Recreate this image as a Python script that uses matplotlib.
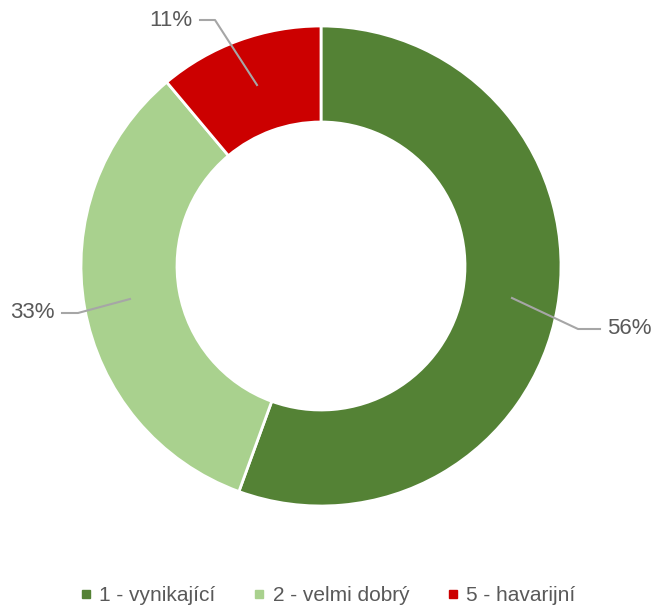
import matplotlib.pyplot as plt
from matplotlib.lines import Line2D

categories = ['1 - vynikající', '2 - velmi dobrý', '5 - havarijní']
counts = [5, 3, 1]
colors = ['#548235', '#A9D18E', '#CC0000']

plt.rcParams['font.family'] = ['Liberation Sans', 'DejaVu Sans']
textColor = '#595959'
lineColor = '#A6A6A6'

fig = plt.figure(figsize=(6.53, 6.12), dpi=100)
ax = fig.add_axes([0, 0, 1, 1])

wedges, _ = ax.pie(counts, colors=colors, startangle=90, counterclock=False,
                   center=(321, 346), radius=240,
                   wedgeprops=dict(width=96, edgecolor='white', linewidth=2))
ax.set_xlim(0, 653)
ax.set_ylim(0, 612)
ax.set_aspect('equal')
ax.axis('off')

total = sum(counts)
pcts = ['{:.0f}%'.format(100 * c / total) for c in counts]

# leader lines: (start on ring, elbow, end), label position, alignment
leaders = [
    ([(512, 314), (578, 283), (600, 283)], (607, 283), 'left'),
    ([(130, 313), (78, 299), (62, 299)], (55, 299), 'right'),
    ([(257, 527), (215, 592), (200, 592)], (192, 592), 'right'),
]
for pct, (pts, pos, ha) in zip(pcts, leaders):
    xs = [p[0] for p in pts]
    ys = [p[1] for p in pts]
    ax.plot(xs, ys, color=lineColor, linewidth=1.5)
    ax.text(pos[0], pos[1], pct, ha=ha, va='center', fontsize=16, color=textColor)

handles = [Line2D([], [], marker='s', linestyle='', markersize=5.5,
                  markerfacecolor=c, markeredgecolor=c) for c in colors]
leg = fig.legend(handles, categories, loc='lower center', ncol=3,
                 bbox_to_anchor=(0.5, -0.02), frameon=False, fontsize=15,
                 handletextpad=0.25, columnspacing=1.7, handlelength=0.8)
for t in leg.get_texts():
    t.set_color(textColor)

fig.savefig('out.png', dpi=100)
